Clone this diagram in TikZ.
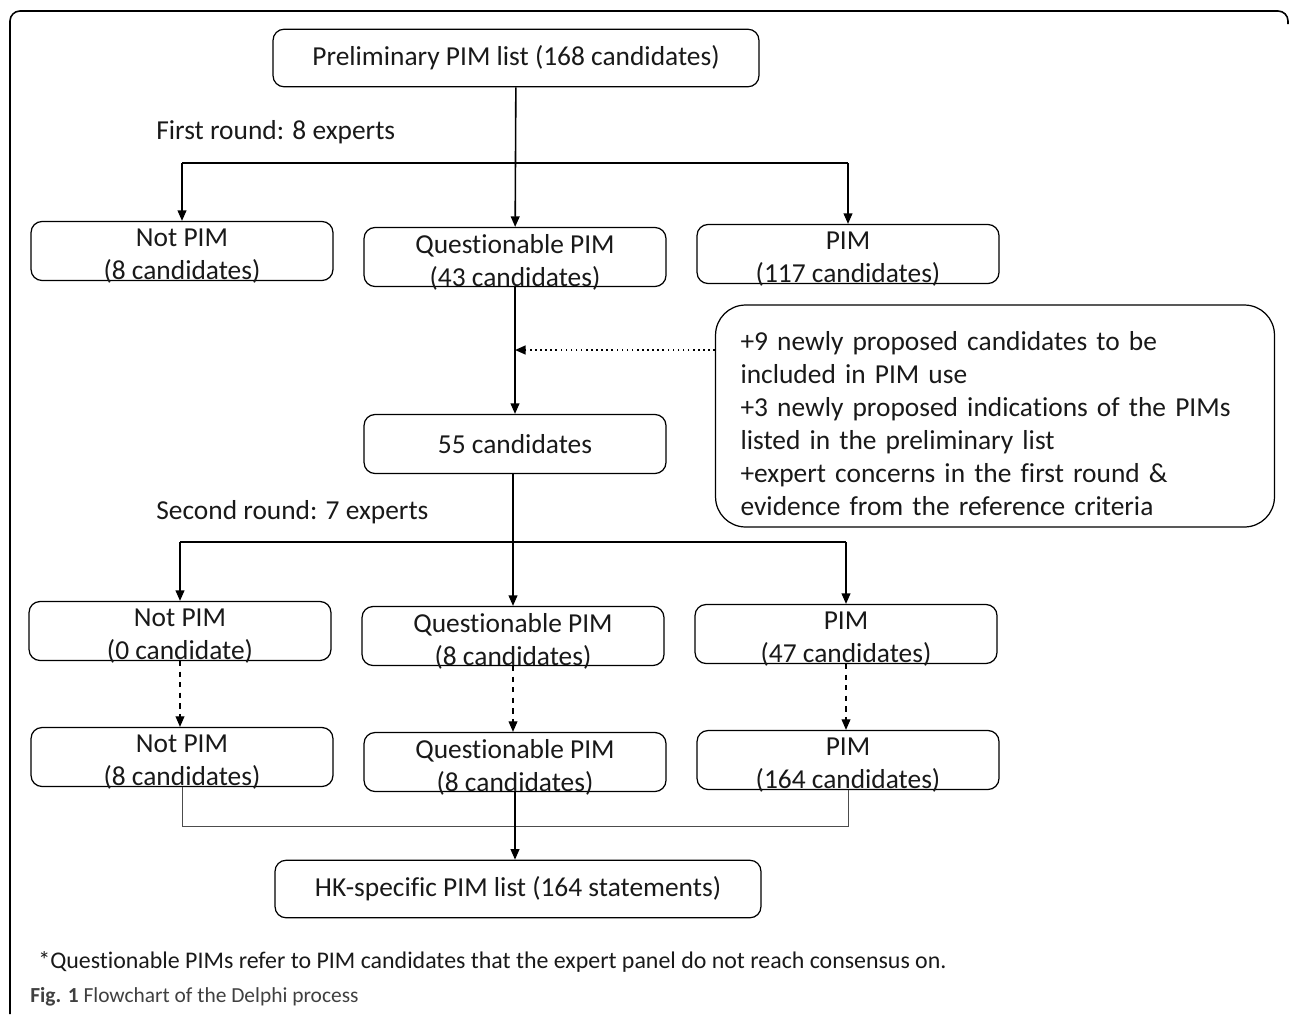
\documentclass[tikz,border=0pt]{standalone}
\usepackage{fontspec}
\setmainfont{Carlito}[Ligatures=CommonOff]
\usetikzlibrary{arrows.meta}

\tikzset{
  box/.style={draw, line width=0.7pt, rounded corners=0.22cm, minimum width=6.04cm,
    minimum height=1.18cm, inner sep=0pt, text width=5.9cm, align=flush center,
    text=black!90, font=\fontsize{15.6}{18.7}\selectfont},
  twoline/.style={box, execute at end node={\par\vspace{-6pt}}},
  widebox/.style={box, minimum width=9.72cm, minimum height=1.15cm, text width=9.5cm},
  notebox/.style={draw, line width=0.7pt, rounded corners=0.6cm, minimum width=11.18cm,
    minimum height=4.44cm, inner xsep=0.5cm, text width=10.18cm, align=left,
    text=black!90, font=\fontsize{15.6}{18.7}\selectfont,
    execute at begin node={\rule{0pt}{19.5pt}}},
  roundlabel/.style={anchor=west, inner sep=0pt, text=black!90,
    font=\fontsize{15.6}{18.7}\selectfont},
  flow/.style={-{Triangle[length=6pt,width=5pt]}, line width=0.9pt},
  joinline/.style={line width=0.5pt, black!70}
}

\begin{document}
\begin{tikzpicture}[x=0.02cm, y=-0.02cm]
  \useasboundingbox (0,0) rectangle (1290,1014);

  % outer frame, cut by the page edge
  \draw[line width=0.9pt, rounded corners=0.2cm] (10,1014) -- (10,11) -- (1288,11) -- (1288,24);

  % nodes
  \node[widebox] (prelim) at (516,58) {Preliminary PIM list (168 candidates)};
  \node[roundlabel] (first) at (156,132) {First round: 8 experts};

  \node[twoline] (notA) at (182,251) {Not PIM\\(8 candidates)};
  \node[twoline] (queA) at (515,257) {Questionable PIM\\(43 candidates)};
  \node[twoline] (pimA) at (848,254) {PIM\\(117 candidates)};

  \node[notebox] (extra) at (995,416) {+9 newly proposed candidates to be\\
    included in PIM use\\
    +3 newly proposed indications of the PIMs\\
    listed in the preliminary list\\
    +expert concerns in the first round \&\\
    evidence from the reference criteria};

  \node[box] (fiftyfive) at (515,444) {55 candidates};
  \node[roundlabel] (second) at (156,512) {Second round: 7 experts};

  \node[twoline] (notB) at (180,631) {Not PIM\\(0 candidate)};
  \node[twoline] (queB) at (513,636) {Questionable PIM\\(8 candidates)};
  \node[twoline] (pimB) at (846,634) {PIM\\(47 candidates)};

  \node[twoline] (notC) at (182,757) {Not PIM\\(8 candidates)};
  \node[twoline] (queC) at (515,762) {Questionable PIM\\(8 candidates)};
  \node[twoline] (pimC) at (848,760) {PIM\\(164 candidates)};

  \node[widebox] (final) at (518,889) {HK-specific PIM list (164 statements)};

  \node[roundlabel, font=\fontsize{13.6}{16}\selectfont] (footnote) at (38,962)
    {*Questionable PIMs refer to PIM candidates that the expert panel do not reach consensus on.};
  \node[roundlabel, text=black!75, font=\fontsize{12.2}{14}\selectfont] (caption) at (30,997)
    {\textbf{Fig. 1} Flowchart of the Delphi process};

  % first round
  \coordinate (splitA) at (515,163);
  \draw[flow] (prelim) -- (queA);
  \draw[line width=0.9pt] (notA.north |- splitA) -- (pimA.north |- splitA);
  \draw[flow] (notA.north |- splitA) -- (notA);
  \draw[flow] (pimA.north |- splitA) -- (pimA);

  % added candidates
  \draw[flow] (queA) -- (fiftyfive);
  \coordinate (mergeA) at (515,350);
  \draw[flow, dotted, line width=1pt] (extra.west |- mergeA) -- (mergeA);

  % second round
  \coordinate (splitB) at (513,542);
  \draw[flow] (fiftyfive.south -| queB) -- (queB);
  \draw[line width=0.9pt] (notB.north |- splitB) -- (pimB.north |- splitB);
  \draw[flow] (notB.north |- splitB) -- (notB);
  \draw[flow] (pimB.north |- splitB) -- (pimB);

  % final classification
  \draw[flow, dashed, line width=0.7pt] (notB) -- (notB |- notC.north);
  \draw[flow, dashed, line width=0.7pt] (queB) -- (queB |- queC.north);
  \draw[flow, dashed, line width=0.7pt] (pimB) -- (pimB |- pimC.north);

  \coordinate (joinC) at (515,826);
  \draw[joinline] (notC) |- (joinC) -| (pimC);
  \draw[flow] (queC) -- (queC |- final.north);
\end{tikzpicture}
\end{document}
